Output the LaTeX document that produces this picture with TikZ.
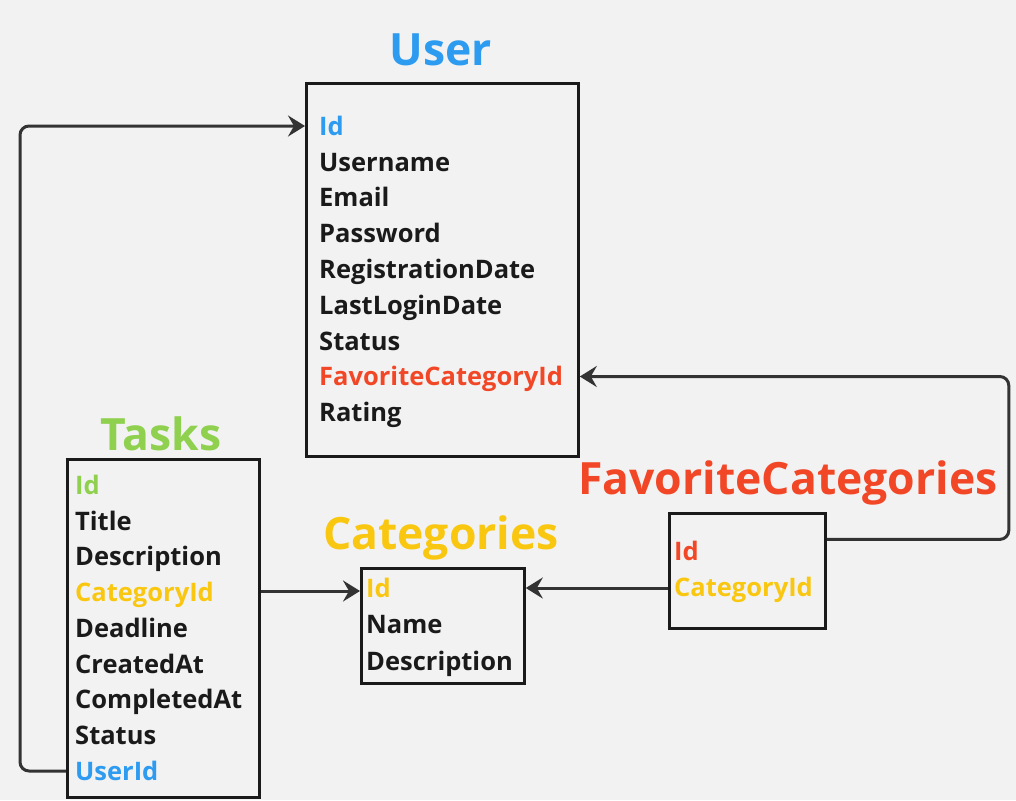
\documentclass[tikz,border=0pt]{standalone}
\usepackage{fontspec}
\setmainfont{Open Sans}
\usetikzlibrary{arrows.meta, positioning}
\definecolor{paper}{HTML}{F2F2F2}
\definecolor{userblue}{HTML}{2D9BF0}
\definecolor{taskgreen}{HTML}{8FD14F}
\definecolor{catyellow}{HTML}{FAC710}
\definecolor{favred}{HTML}{F24726}
\definecolor{ink}{HTML}{1A1A1A}
\definecolor{wire}{HTML}{333333}

\begin{document}
\begin{tikzpicture}[x=1pt, y=-1pt,
  table/.style={draw=ink, line width=2.8pt, anchor=north west, inner sep=0pt},
  title/.style={font=\fontsize{44.5}{44.5}\selectfont\bfseries, anchor=base},
  field/.style={font=\fontsize{25.5}{25.5}\selectfont\bfseries, text=ink, anchor=base west, inner sep=0pt},
  link/.style={draw=wire, line width=3pt, rounded corners=9pt, -{Stealth[length=17pt, width=21pt, inset=6pt]}}]

  % Background
  \fill[paper] (0,0) rectangle (1016,800);

  % User table
  \node[table, minimum width=272pt, minimum height=373pt] (user) at (305,82) {};
  \node[title, text=userblue] (user-title) at (441,65) {User};
  \node[field, text=userblue] (u-id) at (319,135) {Id};
  \node[field] (u-name) at (319,171) {Username};
  \node[field] (u-mail) at (319,206.5) {Email};
  \node[field] (u-pass) at (319,242) {Password};
  \node[field] (u-reg) at (319,278) {RegistrationDate};
  \node[field] (u-login) at (319,314) {LastLoginDate};
  \node[field] (u-status) at (319,350) {Status};
  \node[field, text=favred] (u-favid) at (319,385.5) {FavoriteCategoryId};
  \node[field] (u-rating) at (319,421.5) {Rating};

  % Tasks table
  \node[table, minimum width=192pt, minimum height=338pt] (tasks) at (66,458) {};
  \node[title, text=taskgreen] (tasks-title) at (161,450) {Tasks};
  \node[field, text=taskgreen] (t-id) at (75,494) {Id};
  \node[field] (t-title) at (75,530) {Title};
  \node[field] (t-desc) at (75,565.5) {Description};
  \node[field, text=catyellow] (t-catid) at (75,601) {CategoryId};
  \node[field] (t-deadline) at (75,637) {Deadline};
  \node[field] (t-created) at (75,673) {CreatedAt};
  \node[field] (t-done) at (75,708.5) {CompletedAt};
  \node[field] (t-status) at (75,744) {Status};
  \node[field, text=userblue] (t-userid) at (75,780) {UserId};

  % Categories table
  \node[table, minimum width=163pt, minimum height=115pt] (cats) at (360,567) {};
  \node[title, text=catyellow] (cats-title) at (441,549) {Categories};
  \node[field, text=catyellow] (c-id) at (366,597) {Id};
  \node[field] (c-name) at (366,633.5) {Name};
  \node[field] (c-desc) at (366,670) {Description};

  % FavoriteCategories table
  \node[table, minimum width=156pt, minimum height=115pt] (favs) at (668,512) {};
  \node[title, text=favred] (favs-title) at (788,494) {FavoriteCategories};
  \node[field, text=favred] (f-id) at (674,560.5) {Id};
  \node[field, text=catyellow] (f-catid) at (674,596) {CategoryId};

  % Relations
  \draw[link] ([yshift=9pt]tasks.west |- t-userid.base) -- ++(-46,0) |- ([yshift=9pt]user.west |- u-id.base);
  \draw[link] ([yshift=10pt]tasks.east |- t-catid.base) -- ([yshift=10pt]cats.west |- t-catid.base);
  \draw[link] ([yshift=8pt]favs.west |- f-catid.base) -- ([yshift=8pt]cats.east |- f-catid.base);
  \draw[link] ([yshift=31.5pt]favs.east) -- ++(182,0) |- ([yshift=9pt]user.east |- u-favid.base);
\end{tikzpicture}
\end{document}
